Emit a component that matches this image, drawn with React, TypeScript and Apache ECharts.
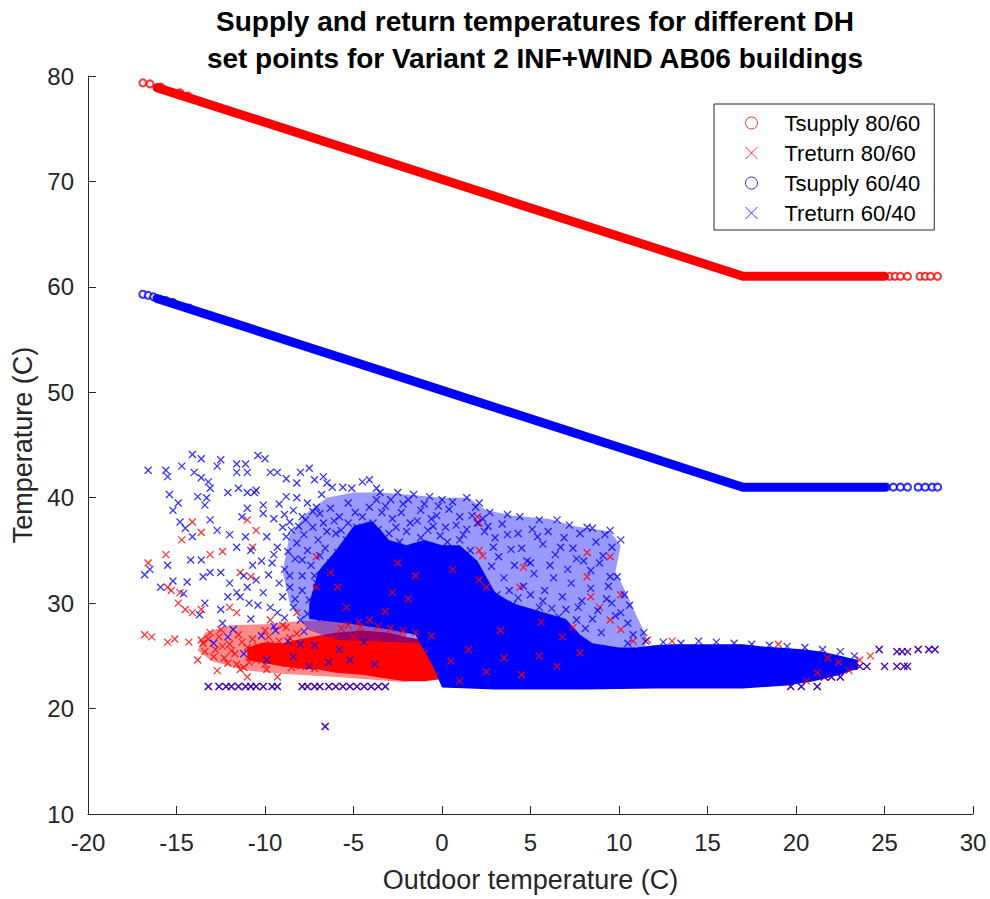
import React, { useEffect, useRef } from "react";
import * as echarts from "echarts";

// ---------- data ----------
const titleLines = [
  "Supply and return temperatures for different DH",
  "set points for Variant 2 INF+WIND AB06 buildings",
];
const xAxisName = "Outdoor temperature (C)";
const yAxisName = "Temperature (C)";
const seriesNames = ["Tsupply 80/60", "Treturn 80/60", "Tsupply 60/40", "Treturn 60/40"];

// supply 80/60: dense part (continuous band) and sparse circles at the ends
const supplyHighDense = [[-16.1, 78.9], [17.0, 61.0], [25.0, 61.0]];
const supplyHighSparse = [
  [-16.9, 79.35], [-16.5, 79.25], [-15.9, 78.95], [-14.8, 78.4], [-14.35, 78.1],
  [25.3, 61.0], [25.6, 61.0], [25.9, 61.0], [26.3, 61.0], [27.0, 61.0], [27.3, 61.0], [27.6, 61.0], [28.0, 61.0],
];
// supply 60/40
const supplyLowDense = [[-16.1, 58.9], [17.0, 41.0], [25.0, 41.0]];
const supplyLowSparse = [
  [-16.9, 59.3], [-16.6, 59.2], [-16.3, 59.05], [-15.6, 58.7], [-15.2, 58.5], [-14.3, 58.0],
  [25.1, 41.0], [25.5, 41.0], [25.9, 41.0], [26.3, 41.0], [26.9, 41.0], [27.3, 41.0], [27.7, 41.0], [28.0, 41.0],
];

// moderately dense part of the return 80/60 cloud: outline
const returnHighMidOutline = [
  [-13.8, 25.5], [-13.4, 27.2], [-12, 27.9], [-10, 28.0], [-8, 28.3], [-6, 28.4], [-4, 28.4], [-2, 28],
  [-2, 22.5], [-6, 23], [-9, 23.3], [-11, 23.6], [-13, 24.5],
];
// densest (solid-looking) area of the return 80/60 cloud: outline
const returnHighDenseTop = [
  [-11, 25.8], [-10, 26.3], [-9, 26.2], [-8, 26.6], [-7, 26.9], [-6, 27.2], [-4.5, 27.4], [-3, 27.2],
  [-2, 26.8], [-1, 26.5], [0, 26.0], [1, 25.5],
];
const returnHighDenseBottom = [
  [-11, 24.6], [-10, 24.3], [-9, 24.0], [-8, 23.8], [-7, 23.7], [-6, 23.4], [-4.5, 23.2], [-3, 22.8],
  [-2, 22.6], [-1, 22.6], [0, 22.8], [1, 23.5],
];

// moderately dense part of the return 60/40 cloud: outline
const returnLowMidOutline = [
  [-8.6, 30], [-9, 33], [-8.6, 36.5], [-7.6, 38.6], [-6.5, 40], [-5, 40.5], [-3.5, 40.5], [-2, 40.3],
  [0, 40], [1.5, 40], [2.5, 38.8], [4, 38.3], [6, 38], [7.5, 37.3], [9.5, 36.8], [10.1, 35.5], [9.8, 33],
  [10.4, 31], [10.8, 29.5], [11.5, 27], [11.5, 25.5], [-6, 26.5], [-7.6, 27.5],
];
// densest (solid-looking) area of the return 60/40 cloud: outline
const returnLowDenseTop = [
  [-7.5, 30], [-7, 33], [-6, 35], [-5, 37.3], [-4, 37.8], [-3.5, 37], [-3, 36], [-2, 35.5], [-1, 36],
  [0, 35.5], [1, 35.5], [2, 34], [3, 31], [4, 30], [5, 29.5], [6, 29], [7, 28.5], [7.8, 27], [8.5, 26.2],
  [10, 25.8], [11, 25.8], [12, 26.0], [13, 26.1], [15, 26.1], [17, 26.1], [18, 25.9], [19, 25.8],
  [20.5, 25.6], [21.5, 25.4], [22.5, 25.0], [23.5, 24.6],
];
const returnLowDenseBottom = [
  [-7.5, 28.5], [-5, 28], [-3, 27.5], [-1.5, 27], [-0.5, 24], [0, 22], [3, 21.8], [8, 21.8], [12, 21.9],
  [17, 21.9], [19.5, 22.2], [21, 22.6], [22.5, 23.2], [23.5, 23.8],
];

// points shared by both return clouds (overlapping marks)
const sharedReturnPoints = [
  [-13.2, 22.1], [-12.6, 22.1], [-12.2, 22.1], [-11.9, 22.1], [-11.5, 22.1], [-11.1, 22.1], [-10.8, 22.1],
  [-10.5, 22.1], [-10.1, 22.1], [-9.6, 22.1], [-9.3, 22.1], [-7.9, 22.1], [-7.6, 22.1], [-7.2, 22.1],
  [-6.9, 22.1], [-6.4, 22.1], [-6.0, 22.1], [-5.6, 22.1], [-5.2, 22.1], [-4.8, 22.1], [-4.4, 22.1],
  [-4.0, 22.1], [-3.6, 22.1], [-3.2, 22.1], [-6.6, 18.3],
  [24.7, 25.6], [25.7, 25.4], [26.0, 25.4], [26.3, 25.4], [26.9, 25.6], [27.5, 25.6], [27.85, 25.6],
  [23.2, 24.0], [23.6, 24.0], [24.0, 24.0], [25.0, 24.0], [25.7, 24.0], [26.1, 24.0], [26.3, 24.0],
  [21.6, 23.0], [22.0, 23.0], [22.5, 23.0], [19.7, 22.1], [20.3, 22.1], [21.2, 22.1],
];

// scattered return 80/60 points
const returnHighPoints = [
  [-13.2, 26.6], [-12.8, 25.6], [-12.6, 26.8], [-12.3, 24.8], [-12.0, 26.1], [-11.7, 25.2], [-11.5, 27.0],
  [-11.2, 23.9], [-11.0, 25.8], [-10.7, 26.6], [-10.5, 24.6], [-10.2, 25.4], [-9.9, 23.7], [-9.7, 26.1],
  [-9.4, 24.9], [-9.1, 25.7], [-9.3, 23.0], [-8.8, 24.3], [-8.6, 26.7], [-8.3, 25.3], [-8.0, 24.0],
  [-7.8, 26.0], [-7.6, 25.0], [-11.4, 23.7], [-11.0, 23.0], [-12.1, 24.3], [-13.5, 26.2], [-13.6, 26.5],
  [-14.3, 26.3], [-13.8, 24.6], [-13.1, 27.2], [-12.5, 27.5], [-10.0, 27.4], [-9.0, 27.9], [-8.2, 27.1],
  [-12.9, 24.9], [-12.4, 25.9], [-11.9, 25.5], [-11.3, 26.3], [-10.9, 24.4], [-10.4, 25.9], [-10.0, 24.2],
  [-9.6, 25.2], [-9.2, 26.4], [-8.9, 25.0], [-8.5, 23.9], [-8.1, 25.8], [-7.7, 24.4], [-7.3, 26.3],
  [-6.9, 24.8], [-6.5, 25.8], [-6.1, 26.7], [-5.7, 27.6], [-5.3, 27.9], [-4.7, 28.2], [-3.6, 27.8],
  [-2.9, 27.6], [-2.2, 27.4], [-1.5, 27.2], [-0.6, 26.9], [-13.4, 25.4], [-11.6, 24.2], [-9.8, 26.8],
  [-7.2, 23.8], [-12.7, 23.6],
  [-16.8, 27.0], [-16.4, 26.8], [-15.5, 26.3], [-15.1, 26.6], [-16.6, 33.8], [-15.6, 34.6], [-15.5, 31.5],
  [-15.3, 31.2], [-14.8, 31.0], [-14.7, 36.0], [-14.1, 37.7], [-13.6, 36.7], [-14.9, 30.0], [-14.5, 29.4],
  [-14.1, 29.1], [-13.6, 29.4], [-13.1, 34.6], [-12.4, 34.9], [-11.0, 37.9], [-10.5, 36.9], [-11.4, 32.9],
  [-10.8, 32.5], [-11.6, 29.1], [-12.0, 29.6], [-10.7, 35.3], [-9.7, 28.4], [-8.8, 27.7], [-8.2, 29.1],
  [-7.1, 31.5], [-6.3, 32.9], [-7.1, 34.4], [-5.9, 31.5], [-5.4, 29.6], [-4.6, 27.7], [-4.1, 28.4],
  [-2.5, 33.8], [-1.9, 30.4], [-3.2, 29.2], [-5.0, 26.8], [-3.8, 26.2], [-2.6, 24.5], [-5.6, 24.1],
  [2.1, 35.0], [2.3, 34.5], [4.6, 33.4], [2.1, 32.2], [8.2, 34.8], [9.5, 34.4], [8.2, 32.5], [8.4, 30.6],
  [10.1, 30.8], [8.9, 29.6], [9.5, 28.4], [10.1, 27.5], [7.8, 25.3], [6.8, 26.8], [7.4, 27.7], [4.4, 31.5],
  [2.5, 31.5], [2.1, 37.6], [2.0, 38.2], [0.6, 33.2], [-1.5, 32.6], [-2.8, 31.0], [5.6, 28.2], [3.3, 27.4],
  [-2.5, 25.5], [-1.8, 24.0], [-1.0, 25.2], [0.5, 24.5], [1.5, 25.6], [2.5, 23.5], [3.5, 24.8], [4.5, 23.2],
  [5.5, 25.0], [6.5, 24.0], [-0.4, 23.1], [1.0, 22.6],
  [21.8, 24.8], [22.4, 24.4], [23.0, 23.6], [21.2, 23.4], [20.6, 22.6], [23.6, 24.6], [24.2, 25.0],
  [10.8, 26.4], [11.6, 26.5], [13.0, 26.4], [19.0, 26.1],
];

// scattered return 60/40 points
const returnLowPoints = [
  [-16.6, 42.6], [-15.6, 42.6], [-15.5, 42.0], [-14.1, 44.1], [-13.6, 43.7], [-14.7, 43.0], [-12.5, 43.6],
  [-12.7, 43.0], [-11.6, 43.2], [-11.1, 43.2], [-10.4, 44.0], [-10.0, 43.7], [-14.0, 42.4], [-13.6, 41.9],
  [-13.2, 41.5], [-13.1, 40.9], [-15.4, 40.3], [-14.9, 39.5], [-15.2, 38.8], [-13.8, 40.1], [-13.3, 40.0],
  [-13.4, 39.3], [-12.1, 40.5], [-11.6, 42.4], [-11.0, 42.4], [-11.5, 40.9], [-11.0, 40.5], [-10.6, 40.5],
  [-10.1, 39.3], [-9.7, 42.4], [-9.3, 42.4], [-10.1, 38.5], [-11.0, 39.0], [-11.3, 38.2], [-10.5, 40.7],
  [-8.2, 41.4], [-8.8, 41.8], [-8.0, 42.4], [-7.5, 42.8], [-7.2, 41.7], [-6.7, 42.0], [-6.5, 41.4],
  [-6.2, 41.0], [-5.6, 41.0], [-5.1, 40.9], [-4.5, 41.5], [-4.1, 41.7], [-3.7, 40.9], [-8.8, 40.1],
  [-8.2, 40.0], [-7.6, 39.5], [-7.1, 39.1], [-6.3, 39.0], [-8.6, 37.7], [-7.9, 38.2], [-7.3, 37.2],
  [-6.7, 37.6], [-14.8, 37.7], [-14.5, 37.1], [-14.1, 36.3], [-12.7, 36.9], [-13.1, 37.9], [-12.0, 36.5],
  [-11.6, 35.3], [-11.1, 36.3], [-10.8, 35.0], [-9.9, 36.3], [-9.3, 35.3], [-8.8, 36.3], [-8.2, 35.7],
  [-7.6, 35.0], [-14.2, 34.1], [-13.6, 34.1], [-13.1, 32.9], [-16.8, 32.7], [-16.5, 33.2], [-15.5, 33.6],
  [-15.9, 31.5], [-14.4, 32.0], [-13.5, 32.5], [-13.4, 30.0], [-13.7, 28.9], [-12.5, 32.9], [-12.0, 31.9],
  [-11.6, 31.0], [-12.1, 30.6], [-12.5, 29.4], [-12.4, 28.1], [-12.1, 26.8], [-11.4, 30.6], [-11.0, 31.5],
  [-10.5, 32.2], [-10.1, 31.0], [-9.7, 29.6], [-9.3, 29.1], [-9.0, 30.6], [-8.6, 31.5], [-8.4, 29.6],
  [-8.0, 28.4], [-7.5, 30.3], [-7.1, 31.9], [-6.5, 32.9], [-6.3, 33.8], [-5.9, 34.8], [-5.4, 36.0],
  [-4.8, 37.2], [-4.5, 38.2], [-4.1, 39.1], [-3.7, 39.8],
  [-9.5, 38.0], [-9.0, 37.2], [-8.4, 38.8], [-7.8, 36.5], [-7.0, 36.0], [-6.6, 35.2], [-6.0, 36.6],
  [-5.8, 38.2], [-5.3, 39.5], [-6.8, 40.3], [-9.6, 33.8], [-8.9, 33.2], [-8.3, 34.2], [-7.4, 33.6],
  [-6.9, 34.5], [-10.2, 34.0], [-9.2, 31.9], [-7.9, 32.6], [-6.2, 30.8], [-5.6, 31.8], [-5.2, 33.2], [-4.6, 34.2],
  [-11.8, 27.5], [-10.8, 28.5], [-10.2, 26.9], [-9.5, 27.8], [-8.7, 26.4], [-7.8, 27.3], [-7.2, 26.0],
  [-6.8, 28.6], [-11.2, 25.2], [-9.9, 24.6], [-8.4, 24.9], [-7.5, 24.0], [-6.4, 24.4], [-12.9, 26.2],
  [-5.8, 25.6], [-5.2, 24.6], [-4.4, 26.3], [-3.8, 24.2], [-14.6, 30.9], [-15.2, 32.1],
  [-9.2, 39.4], [-8.9, 38.4], [-8.5, 36.9], [-8.1, 37.3], [-7.7, 37.9], [-7.3, 38.7], [-6.9, 38.5],
  [-6.5, 36.8], [-6.1, 37.8], [-5.7, 36.9], [-5.3, 37.6], [-4.9, 38.6], [-4.3, 36.4], [-3.9, 37.6],
  [-3.4, 38.6], [-3.6, 37.0], [-4.2, 35.4], [-4.9, 35.0], [-5.5, 34.2], [-6.0, 33.2], [-6.6, 31.5],
  [-7.2, 30.2], [-7.6, 29.0], [-8.3, 30.4], [-8.9, 28.6], [-9.4, 27.4], [-8.0, 26.1], [-6.9, 29.6],
  [-7.9, 31.2], [-8.6, 32.6], [-9.8, 32.7], [-10.4, 29.8], [-10.9, 30.0], [-11.2, 32.6], [-10.7, 33.6],
  [-9.5, 34.6], [-8.7, 34.9], [-7.9, 34.1], [-7.2, 32.6], [-6.6, 30.2],
  [-3.5, 40.5], [-2.5, 40.5], [-1.6, 40.3], [-0.7, 40.1], [0.0, 39.8], [1.4, 40.0], [2.1, 39.5], [2.7, 38.6],
  [3.7, 38.4], [4.4, 38.2], [5.5, 37.9], [6.5, 37.9], [7.2, 37.4], [8.2, 37.2], [8.5, 37.1], [9.5, 36.9],
  [10.1, 36.0], [9.5, 32.5], [9.9, 32.5], [10.6, 29.8], [11.4, 27.2], [10.1, 29.1], [10.5, 28.1],
  [-3.2, 39.2], [-2.8, 38.0], [-2.2, 39.4], [-1.8, 37.6], [-1.2, 38.8], [-0.8, 36.9], [-0.3, 38.3],
  [0.4, 38.9], [0.8, 37.4], [1.2, 36.5], [1.7, 38.3], [-3.0, 36.6], [-2.4, 35.8], [-1.5, 35.3], [0.3, 35.8],
  [1.6, 35.0], [2.4, 36.8], [-2.0, 36.8], [-0.5, 37.3], [2.0, 37.6],
  [-2.9, 39.8], [-2.6, 37.2], [-2.3, 38.6], [-1.9, 39.8], [-1.4, 37.8], [-1.0, 39.4], [-0.6, 38.0],
  [-0.2, 39.2], [0.2, 37.2], [0.6, 39.6], [1.0, 38.2], [1.4, 37.0], [1.9, 39.1], [2.3, 38.0], [2.6, 37.3],
  [2.9, 35.3], [1.0, 36.0], [-0.1, 36.4], [-1.2, 36.2], [-2.7, 35.4],
  [3.0, 36.2], [3.4, 37.5], [3.9, 35.1], [4.3, 36.6], [4.8, 34.0], [5.1, 37.0], [5.7, 35.6], [6.0, 36.8],
  [6.4, 34.6], [6.9, 36.2], [7.4, 35.2], [7.8, 36.6], [8.0, 34.0], [8.7, 35.8], [9.1, 34.5], [9.6, 35.3],
  [9.2, 36.5], [2.8, 33.5], [3.5, 32.4], [4.1, 33.6], [4.6, 31.6], [5.2, 32.8], [5.8, 31.2], [6.3, 32.4],
  [6.8, 30.6], [7.3, 31.9], [7.9, 30.2], [8.4, 31.4], [8.8, 29.3], [9.3, 30.4], [3.1, 30.8], [4.0, 29.9],
  [5.5, 29.6], [6.6, 28.7], [7.6, 28.4], [8.1, 27.6], [9.0, 27.2], [9.8, 28.8], [10.3, 30.8], [10.8, 27.0],
  [3.2, 34.4], [3.7, 36.5], [4.5, 35.2], [5.0, 33.8], [5.4, 36.3], [6.1, 33.6], [6.7, 35.3], [7.1, 33.2],
  [7.6, 34.2], [8.4, 33.1], [8.9, 33.8], [9.4, 31.6], [3.8, 31.2], [4.3, 30.5], [5.0, 30.8], [5.7, 30.2],
  [6.2, 29.5], [7.0, 29.4], [7.7, 29.6], [8.5, 28.5], [9.6, 30.0], [3.6, 28.6], [4.7, 28.3],
  [10.5, 26.2], [11.5, 26.4], [12.5, 26.3], [13.5, 26.2], [14.5, 26.4], [15.5, 26.3], [16.5, 26.2],
  [17.5, 26.1], [18.5, 26.0], [19.5, 25.9], [20.5, 25.8], [21.5, 25.6], [22.5, 25.4], [23.3, 25.0],
];

const xTicks = { min: -20, max: 30, step: 5 };
const yTicks = { min: 10, max: 80, step: 10 };

// ---------- styling ----------
const RED = "#ff0000";
const BLUE = "#0000ff";
const INK = "#262626";
const FONT = "'Liberation Sans', Arial, Helvetica, sans-serif";
const CROSS = "path://M0 0L10 10M10 0L0 10";

function outline(top: number[][], bottom: number[][]) {
  return top.concat(bottom.slice().reverse());
}

function polygonSeries(points: number[][], color: string, opacity: number) {
  return {
    type: "custom",
    silent: true,
    z: 1,
    data: points,
    encode: { x: 0, y: 1 },
    renderItem: (params: any, api: any) => {
      if (params.dataIndex !== 0) return null;
      const pts = points.map((p) => api.coord(p));
      return { type: "polygon", shape: { points: pts }, style: { fill: color, opacity } };
    },
  };
}

export default function App() {
  const ref = useRef<HTMLDivElement>(null);
  useEffect(() => {
    if (!ref.current) return;
    const chart = echarts.init(ref.current, undefined, { renderer: "svg" });
    const crossStyle = (c: string) => ({ color: c, borderColor: c, borderWidth: 1.3 });
    chart.setOption({
      animation: false,
      backgroundColor: "#ffffff",
      textStyle: { fontFamily: FONT },
      title: {
        text: titleLines.join("\n"),
        left: 530,
        top: -2,
        textAlign: "center",
        textStyle: { fontFamily: FONT, fontWeight: "bold", fontSize: 28, lineHeight: 37, color: "#000" },
      },
      legend: {
        orient: "vertical",
        left: 714,
        top: 104,
        padding: [8, 14, 6, 31],
        itemWidth: 14,
        itemHeight: 12,
        itemGap: 8,
        borderColor: INK,
        borderWidth: 1,
        backgroundColor: "#fff",
        selectedMode: false,
        textStyle: { fontFamily: FONT, fontSize: 22, lineHeight: 22, color: "#000", padding: [0, 0, 0, 21] },
        data: [
          { name: seriesNames[0], icon: "circle", itemStyle: { color: "#fff", borderColor: RED, borderWidth: 1 } },
          { name: seriesNames[1], icon: CROSS, itemStyle: { color: RED, borderColor: RED, borderWidth: 1 } },
          { name: seriesNames[2], icon: "circle", itemStyle: { color: "#fff", borderColor: BLUE, borderWidth: 1 } },
          { name: seriesNames[3], icon: CROSS, itemStyle: { color: BLUE, borderColor: BLUE, borderWidth: 1 } },
        ],
      },
      grid: { left: 88, right: 17, top: 76, bottom: 85, containLabel: false },
      xAxis: {
        type: "value",
        min: xTicks.min,
        max: xTicks.max,
        interval: xTicks.step,
        name: xAxisName,
        nameLocation: "middle",
        nameGap: 52,
        nameTextStyle: { fontFamily: FONT, fontSize: 27, color: INK },
        axisLine: { show: true, onZero: false, lineStyle: { color: INK, width: 1 } },
        axisTick: { show: true, inside: true, length: 8, lineStyle: { color: INK } },
        axisLabel: { fontFamily: FONT, fontSize: 24, color: INK, margin: 16 },
        splitLine: { show: false },
      },
      yAxis: {
        type: "value",
        min: yTicks.min,
        max: yTicks.max,
        interval: yTicks.step,
        name: yAxisName,
        nameLocation: "middle",
        nameGap: 50,
        nameTextStyle: { fontFamily: FONT, fontSize: 27, color: INK },
        axisLine: { show: true, onZero: false, lineStyle: { color: INK, width: 1 } },
        axisTick: { show: true, inside: true, length: 8, lineStyle: { color: INK } },
        axisLabel: { fontFamily: FONT, fontSize: 24, color: INK, margin: 14 },
        splitLine: { show: false },
      },
      series: [
        {
          type: "line",
          data: supplyHighDense,
          symbol: "none",
          silent: true,
          lineStyle: { color: RED, width: 9, cap: "round", join: "round" },
        },
        {
          name: seriesNames[0],
          type: "scatter",
          data: supplyHighSparse,
          symbol: "emptyCircle",
          symbolSize: 7,
          itemStyle: { color: RED, borderColor: RED, borderWidth: 1 },
        },
        polygonSeries(returnHighMidOutline, RED, 0.45),
        polygonSeries(outline(returnHighDenseTop, returnHighDenseBottom), RED, 1),
        {
          type: "line",
          data: supplyLowDense,
          symbol: "none",
          silent: true,
          lineStyle: { color: BLUE, width: 9, cap: "round", join: "round" },
        },
        {
          name: seriesNames[2],
          type: "scatter",
          data: supplyLowSparse,
          symbol: "emptyCircle",
          symbolSize: 7,
          itemStyle: { color: BLUE, borderColor: BLUE, borderWidth: 1 },
        },
        polygonSeries(returnLowMidOutline, BLUE, 0.4),
        polygonSeries(outline(returnLowDenseTop, returnLowDenseBottom), BLUE, 1),
        {
          name: seriesNames[1],
          type: "scatter",
          z: 2,
          data: returnHighPoints.concat(sharedReturnPoints),
          symbol: CROSS,
          symbolSize: 7,
          itemStyle: crossStyle(RED),
        },
        {
          name: seriesNames[3],
          type: "scatter",
          z: 2,
          data: returnLowPoints.concat(sharedReturnPoints),
          symbol: CROSS,
          symbolSize: 7,
          itemStyle: crossStyle(BLUE),
        },
      ],
    });
    return () => chart.dispose();
  }, []);
  return (
    <div
      ref={ref}
      style={{ position: "fixed", left: 0, top: 0, width: 990, height: 899, background: "#fff" }}
    />
  );
}
